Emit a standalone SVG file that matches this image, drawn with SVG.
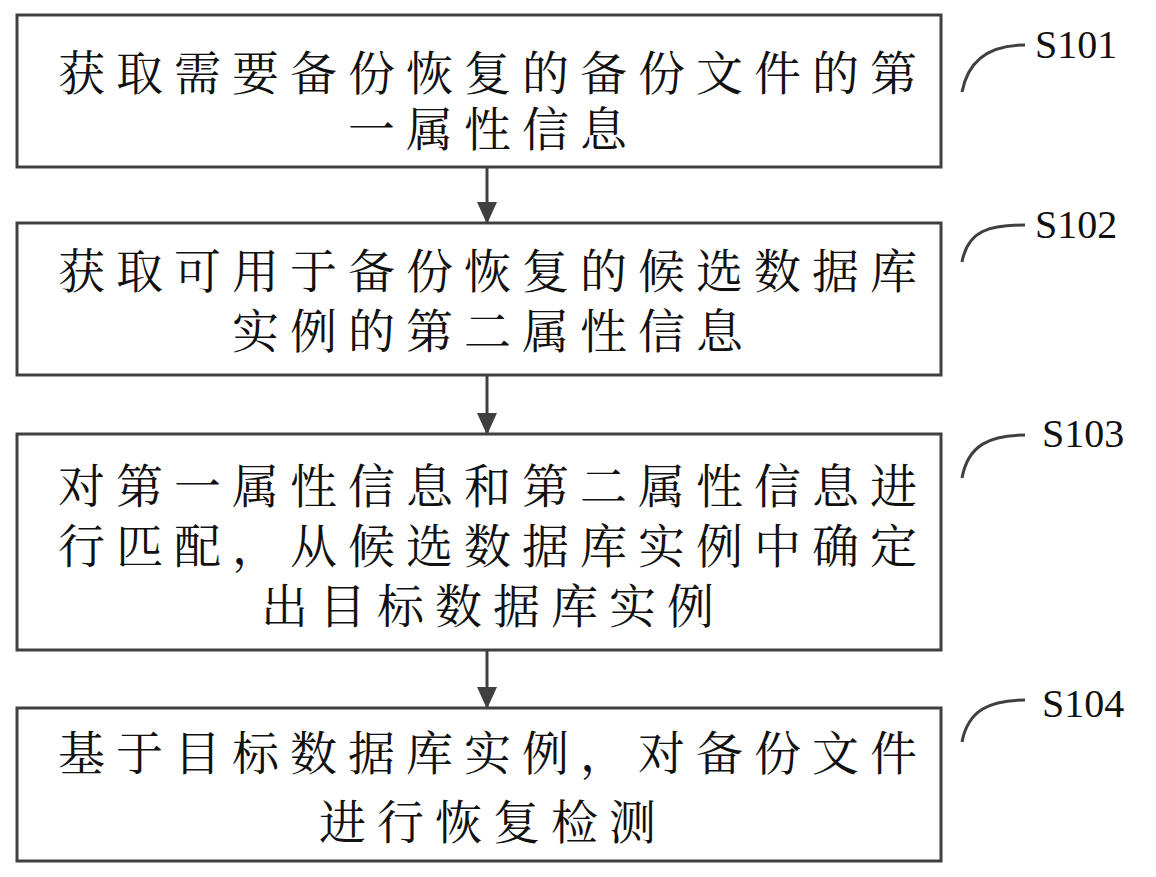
<svg xmlns="http://www.w3.org/2000/svg" width="1156" height="877" viewBox="0 0 1156 877">
<defs>
<style>
.box{fill:#fff;stroke:#404040;stroke-width:3}
.t{font-family:"Liberation Serif","Noto Serif CJK SC","Noto Sans CJK SC",serif;font-size:47px;letter-spacing:11px;fill:#111;text-anchor:middle}
.l{font-family:"Liberation Serif",serif;font-size:40px;fill:#111}
.c{fill:none;stroke:#404040;stroke-width:3}
</style>
<marker id="ah" markerWidth="22" markerHeight="20" refX="20" refY="10" orient="auto" markerUnits="userSpaceOnUse" viewBox="0 0 22 20"><path d="M0,0 L22,10 L0,20 z" fill="#404040"/></marker>
</defs>
<rect width="1156" height="877" fill="#fff"/>
<g id="n1"><rect class="box" x="17" y="15" width="924" height="152"/>
<text class="t" x="493" y="90">获取需要备份恢复的备份文件的第</text>
<text class="t" x="493" y="146">一属性信息</text></g>
<g id="n2"><rect class="box" x="17" y="223" width="924" height="152"/>
<text class="t" x="493" y="288">获取可用于备份恢复的候选数据库</text>
<text class="t" x="493" y="348">实例的第二属性信息</text></g>
<g id="n3"><rect class="box" x="17" y="434" width="924" height="216"/>
<text class="t" x="493" y="503">对第一属性信息和第二属性信息进</text>
<text class="t" x="493" y="563">行匹配，从候选数据库实例中确定</text>
<text class="t" x="493" y="623">出目标数据库实例</text></g>
<g id="n4"><rect class="box" x="17" y="708" width="924" height="153"/>
<text class="t" x="493" y="770">基于目标数据库实例，对备份文件</text>
<text class="t" x="493" y="839">进行恢复检测</text></g>
<g id="connectors">
<line class="c" x1="487" y1="167" x2="487" y2="222" marker-end="url(#ah)"/>
<line class="c" x1="487" y1="375" x2="487" y2="433" marker-end="url(#ah)"/>
<line class="c" x1="487" y1="650" x2="487" y2="707" marker-end="url(#ah)"/>
<path class="c" d="M962,92 C968,60 990,45 1025,45"/>
<path class="c" d="M962,262 C968,230 990,225 1025,225"/>
<path class="c" d="M962,478 C968,445 990,435 1025,435"/>
<path class="c" d="M962,742 C968,710 990,700 1025,700"/>
</g>
<text class="l" x="1035" y="58">S101</text>
<text class="l" x="1035" y="238">S102</text>
<text class="l" x="1042" y="447">S103</text>
<text class="l" x="1042" y="717">S104</text>
</svg>
